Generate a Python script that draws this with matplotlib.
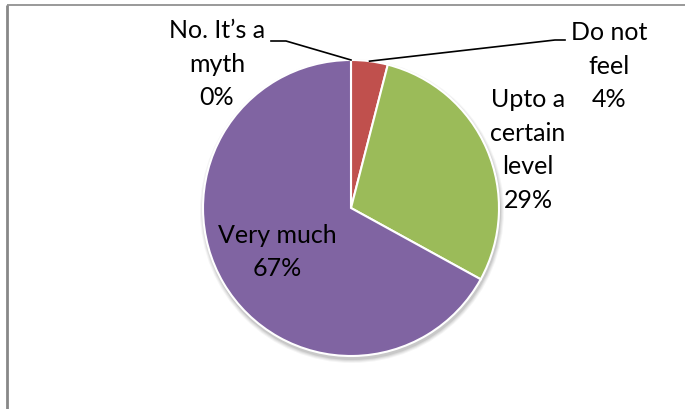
import numpy as np
import matplotlib.pyplot as plt

labels = ["No. It\u2019s a\nmyth", "Do not\nfeel", "Upto a\ncertain\nlevel", "Very much"]
shares = [0, 4, 29, 67]
colors = ["#4F81BD", "#C0504D", "#9BBB59", "#8064A2"]

W, H = 685, 409
fig = plt.figure(figsize=(W / 100, H / 100), dpi=100)
ax = fig.add_axes([0, 0, 1, 1])

# frame of the original chart (top and left edges visible)
ax.plot([7, W], [H - 5, H - 5], color="#888888", lw=1.2, solid_capstyle="butt")
ax.plot([7, 7], [0, H - 5], color="#888888", lw=2, solid_capstyle="butt")

cx, cy, r = 351, H - 208, 148

# soft shadow
for i, a in enumerate([0.04, 0.05, 0.06, 0.08]):
    ax.add_patch(plt.Circle((cx + 1, cy - 3), r + 4 - i, color="black", alpha=a, lw=0))

wedges, _ = ax.pie(shares, colors=colors, startangle=90, counterclock=False,
                   center=(cx, cy), radius=r, frame=True,
                   wedgeprops=dict(edgecolor="white", linewidth=1.5))
ax.set_xlim(0, W)
ax.set_ylim(0, H)
ax.set_aspect("equal")
ax.axis("off")

font = dict(family="Lato", fontsize=18, color="black", ha="center", va="center",
            linespacing=1.55)


def edge_point(i):
    w = wedges[i]
    ang = np.deg2rad((w.theta1 + w.theta2) / 2)
    return cx + r * np.cos(ang), cy + r * np.sin(ang)


# outside labels with leader lines
ax.text(217, H - 64, f"{labels[0]}\n{shares[0]}%", **font)
px, py = edge_point(0)
ax.plot([271, 286, px], [H - 41, H - 41, py], color="black", lw=1.2)

ax.text(609, H - 66, f"{labels[1]}\n{shares[1]}%", **font)
px, py = edge_point(1)
ax.plot([565, 555, px], [H - 40, H - 40, py], color="black", lw=1.2)

# inside labels
ax.text(528, H - 150, f"{labels[2]}\n{shares[2]}%", **font)
ax.text(277, H - 252, f"{labels[3]}\n{shares[3]}%", **font)

fig.savefig("out.png", dpi=100)
